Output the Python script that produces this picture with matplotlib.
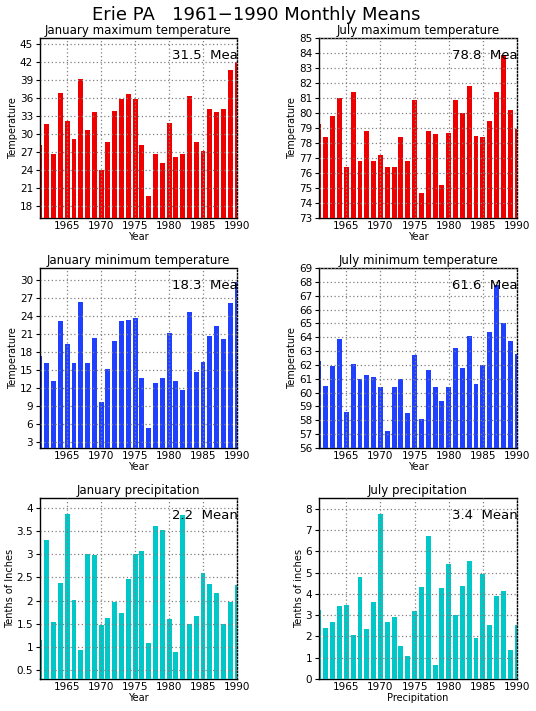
import numpy as np
from matplotlib import pyplot as plt

plt.rcParams['font.family'] = 'DejaVu Sans'

years = list(range(1961, 1991))

jan_max = [28.2, 31.6, 26.6, 36.9, 32.2, 29.2, 39.2, 30.6, 33.6, 24.0,
           28.6, 33.9, 35.9, 36.6, 35.9, 28.2, 19.6, 26.6, 25.2, 31.8,
           26.1, 26.7, 36.4, 28.6, 27.2, 34.2, 33.6, 34.1, 40.7, 42.0]
jul_max = [79.3, 78.4, 79.8, 81.0, 76.4, 81.4, 76.8, 78.8, 76.8, 77.2,
           76.4, 76.4, 78.4, 76.8, 80.9, 74.7, 78.8, 78.6, 75.2, 78.7,
           80.9, 80.0, 81.8, 78.5, 78.4, 79.5, 81.4, 83.9, 80.2, 78.9]
jan_min = [17.4, 16.1, 13.1, 23.1, 19.4, 16.2, 26.4, 16.2, 20.4, 9.6,
           15.2, 19.9, 23.2, 23.4, 23.7, 13.6, 5.4, 12.9, 13.7, 21.2,
           13.1, 11.6, 24.6, 14.7, 16.4, 20.7, 22.4, 20.2, 26.1, 29.7]
jul_min = [62.3, 60.5, 61.9, 63.9, 58.6, 62.1, 61.0, 61.3, 61.1, 60.4,
           57.2, 60.4, 61.0, 58.5, 62.7, 58.1, 61.6, 60.4, 59.4, 60.4,
           63.2, 61.8, 64.1, 60.6, 62.0, 64.4, 67.8, 65.0, 63.7, 62.8]
jan_prcp = [1.14, 3.32, 1.53, 2.37, 3.88, 2.02, 0.92, 3.00, 2.98, 1.46,
            1.63, 1.96, 1.74, 2.46, 3.00, 3.08, 1.07, 3.62, 3.52, 1.59,
            0.88, 3.86, 1.50, 1.66, 2.59, 2.35, 2.17, 1.50, 1.96, 2.33]
jul_prcp = [3.25, 2.41, 2.69, 3.44, 3.49, 2.08, 4.81, 2.36, 3.63, 7.74,
            2.69, 2.92, 1.56, 1.08, 3.21, 4.34, 6.70, 0.66, 4.29, 5.42,
            3.02, 4.39, 5.52, 1.93, 4.95, 2.55, 3.92, 4.15, 1.37, 2.55]

titles = ['January maximum temperature', 'July maximum temperature',
          'January minimum temperature', 'July minimum temperature',
          'January precipitation', 'July precipitation']
means = ['31.5', '78.8', '18.3', '61.6', '2.2', '3.4']
ylabels = ['Temperature', 'Temperature', 'Temperature', 'Temperature',
           'Tenths of Inches', 'Tenths of inches']
xlabels = ['Year', 'Year', 'Year', 'Year', 'Year', 'Precipitation']
ylims = [(16, 46), (73, 85), (2, 32), (56, 69), (0.3, 4.22), (0, 8.5)]
yticks = [np.arange(18, 46, 3), np.arange(73, 86, 1), np.arange(3, 31, 3),
          np.arange(56, 70, 1), np.arange(0.5, 4.01, 0.5), np.arange(0, 9, 1)]
colors = ['#ee0000', '#ee0000', '#2040ff', '#2040ff', '#00c8c8', '#00c8c8']
data = [jan_max, jul_max, jan_min, jul_min, jan_prcp, jul_prcp]

fig = plt.figure(figsize=(5.36, 7.11), dpi=100)
W, H = 536, 711
# axes boxes in pixels: left, top, right, bottom
boxes = [(40, 38, 237, 218), (319, 38, 517, 218),
         (40, 268, 237, 448), (319, 268, 517, 448),
         (40, 498, 237, 679), (319, 498, 517, 679)]

fig.text(256 / W, 1 - 15 / H, 'Erie PA   1961\u22121990 Monthly Means',
         ha='center', va='center', fontsize=13)

def fmt(v):
    s = ('%.1f' % v)
    return s[:-2] if s.endswith('.0') else s

for k in range(6):
    l, t, r, b = boxes[k]
    ax = fig.add_axes([l / W, 1 - b / H, (r - l) / W, (b - t) / H])
    ax.bar(years, data[k], width=0.72, color=colors[k], zorder=1)
    ax.set_xlim(1961, 1990)
    ax.set_ylim(*ylims[k])
    ax.set_xticks([1965, 1970, 1975, 1980, 1985, 1990])
    ax.set_yticks(yticks[k])
    ax.set_yticklabels([fmt(v) for v in yticks[k]])
    ax.set_axisbelow(False)
    ax.grid(True, color='#808080', linestyle=(0, (1, 2)), linewidth=0.9, zorder=3)
    ax.tick_params(axis='both', labelsize=7.5, length=3, width=0.8, pad=2)
    ax.tick_params(axis='x', length=0, pad=2.5)
    for side in ['left', 'top', 'bottom']:
        ax.spines[side].set_linewidth(1.0)
        ax.spines[side].set_color('black')
    ax.spines['bottom'].set_zorder(0.5)
    ax.spines['right'].set_linestyle((0, (1, 1.5)))
    ax.spines['right'].set_linewidth(1.0)
    ax.set_title(titles[k], fontsize=8.5, pad=3)
    ax.set_ylabel(ylabels[k], fontsize=7, labelpad=1)
    ax.set_xlabel(xlabels[k], fontsize=7, labelpad=0.5)
    ax.text(0.67, 0.905, means[k] + '  Mean', transform=ax.transAxes,
            ha='left', va='center', fontsize=9.5, clip_on=True, zorder=5)

fig.savefig('out.png', dpi=100)
